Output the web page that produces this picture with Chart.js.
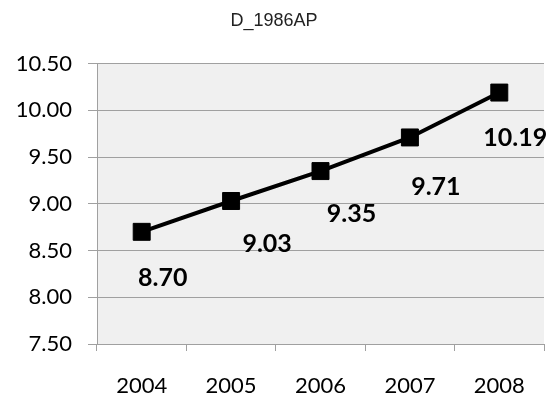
<!DOCTYPE html>
<html>
<head>
<meta charset="utf-8">
<script src="https://cdn.jsdelivr.net/npm/chart.js@4"></script>
<style>
  html, body { margin: 0; padding: 0; background: #fff; }
  #wrap { width: 557px; height: 397px; }
</style>
</head>
<body>
<div id="wrap"><canvas id="chart" width="557" height="397"></canvas></div>
<script>
// data
const years = ['2004', '2005', '2006', '2007', '2008'];
const values = [8.70, 9.03, 9.35, 9.71, 10.19];
const yTicks = [7.5, 8.0, 8.5, 9.0, 9.5, 10.0, 10.5];

// where each value label sits relative to its marker (px)
const labelOffsets = [[21, 46], [36, 43], [31, 43], [26, 49], [16, 45]];

const plotBg = {
  id: 'plotBg',
  beforeDraw(chart) {
    const { ctx, chartArea: a } = chart;
    ctx.save();
    ctx.fillStyle = '#f0f0f0';
    ctx.fillRect(a.left, a.top, a.right - a.left, a.bottom - a.top);
    ctx.restore();
  }
};

const valueLabels = {
  id: 'valueLabels',
  afterDraw(chart) {
    const ctx = chart.ctx;
    const meta = chart.getDatasetMeta(0);
    ctx.save();
    ctx.font = 'bold 25px Lato';
    ctx.fillStyle = '#000';
    ctx.textAlign = 'center';
    ctx.textBaseline = 'middle';
    meta.data.forEach((pt, i) => {
      const off = labelOffsets[i];
      ctx.fillText(values[i].toFixed(2), pt.x + off[0], pt.y + off[1]);
    });
    ctx.restore();
  }
};

new Chart(document.getElementById('chart'), {
  type: 'line',
  data: {
    labels: years,
    datasets: [{
      data: values,
      borderColor: '#000',
      borderWidth: 4,
      tension: 0,
      pointStyle: 'rect',
      pointRadius: 12,
      pointBackgroundColor: '#000',
      pointBorderColor: '#000',
      pointBorderWidth: 1
    }]
  },
  options: {
    responsive: false,
    animation: false,
    events: [],
    layout: { padding: { left: 0, right: 9, top: 0, bottom: 0 } },
    plugins: {
      legend: { display: false },
      tooltip: { enabled: false },
      title: {
        display: true,
        text: 'D_1986AP',
        color: '#222',
        font: { family: 'Liberation Sans', size: 18, weight: 'normal' },
        padding: { top: 10, bottom: 32 }
      }
    },
    scales: {
      x: {
        offset: true,
        grid: { offset: true, drawOnChartArea: false, tickLength: 7, color: '#a0a0a0' },
        border: { color: '#a0a0a0' },
        ticks: { color: '#000', padding: 22, font: { family: 'Lato', size: 22 } },
        afterFit(scale) { scale.height = 53; }
      },
      y: {
        min: 7.5,
        max: 10.5,
        afterBuildTicks(scale) { scale.ticks = yTicks.map(v => ({ value: v })); },
        grid: { color: '#a0a0a0', tickLength: 9 },
        border: { color: '#a0a0a0' },
        ticks: {
          color: '#000',
          padding: 16,
          font: { family: 'Lato', size: 22 },
          callback: v => Number(v).toFixed(2)
        },
        afterFit(scale) { scale.width = 97; }
      }
    }
  },
  plugins: [plotBg, valueLabels]
});
</script>
</body>
</html>
